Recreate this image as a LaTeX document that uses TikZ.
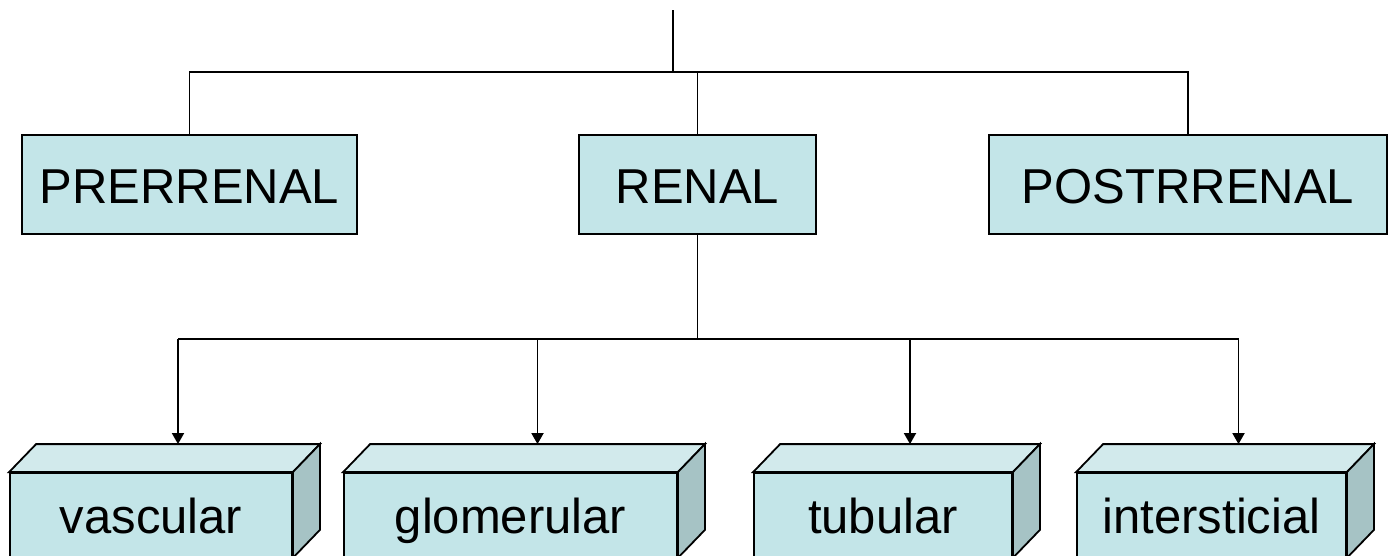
\documentclass[tikz,border=0pt]{standalone}
\usepackage{fontspec}
\setmainfont{Liberation Sans}
\usetikzlibrary{arrows.meta,calc}
\definecolor{boxfill}{HTML}{C3E5E8}
\definecolor{boxtop}{HTML}{D2EAEC}
\definecolor{boxside}{HTML}{A6C3C5}
\begin{document}
\begin{tikzpicture}[x=1pt,y=-1pt,
  line width=1.8pt,
  label text/.style={font=\fontsize{49}{57}\selectfont, text height=37pt, text depth=0pt},
  flatbox/.style={draw=black, fill=boxfill, inner sep=0pt, minimum height=99pt, label text},
  front/.style={draw=black, fill=boxfill, inner sep=0pt, minimum height=84pt, label text},
  topface/.style={draw=black, fill=boxtop, line join=miter},
  sideface/.style={draw=black, fill=boxside, line join=miter},
  arr/.style={-{Triangle[length=11pt,width=12pt]}}
]
\useasboundingbox (0,0) rectangle (1392,555);

% first level
\node[flatbox, minimum width=335pt] (pre)   at (189.5,184.5) {PRERRENAL};
\node[flatbox, minimum width=237pt] (renal) at (697.5,184.5) {RENAL};
\node[flatbox, minimum width=398pt] (post)  at (1188,184.5) {POSTRRENAL};

% second level: front faces of the blocks
\node[front, minimum width=282pt] (vasc)  at (151,515)    {vascular};
\node[front, minimum width=333pt] (glom)  at (510.5,515)  {glomerular};
\node[front, minimum width=258pt] (tub)   at (883,515)    {tubular};
\node[front, minimum width=269pt] (inter) at (1211.5,515) {intersticial};

% top and side faces of the blocks
\foreach \n in {vasc,glom,tub,inter}{
  \draw[topface] (\n.north west) -- ++(27,-28) -- ($(\n.north east)+(27,-28)$) -- (\n.north east) -- cycle;
  \draw[sideface] (\n.north east) -- ++(27,-28) -- ($(\n.south east)+(27,-28)$) -- (\n.south east) -- cycle;
  \coordinate (\n-in) at ($(\n.north)+(27,-28)$);
}

% upper tree
\coordinate (root) at (673,10);
\coordinate (bus1) at (673,72);
\draw (root) -- (bus1);
\draw (pre.north) -- (pre.north |- bus1) -- (post.north |- bus1) -- (post.north);
\draw (renal.north) -- (renal.north |- bus1);

% lower tree
\coordinate (bus2) at (697.5,339);
\draw (renal.south) -- (bus2);
\draw (vasc-in |- bus2) -- (inter-in |- bus2);
\foreach \n in {vasc,glom,tub,inter}{
  \draw[arr] (\n-in |- bus2) -- (\n-in);
}
\end{tikzpicture}
\end{document}
